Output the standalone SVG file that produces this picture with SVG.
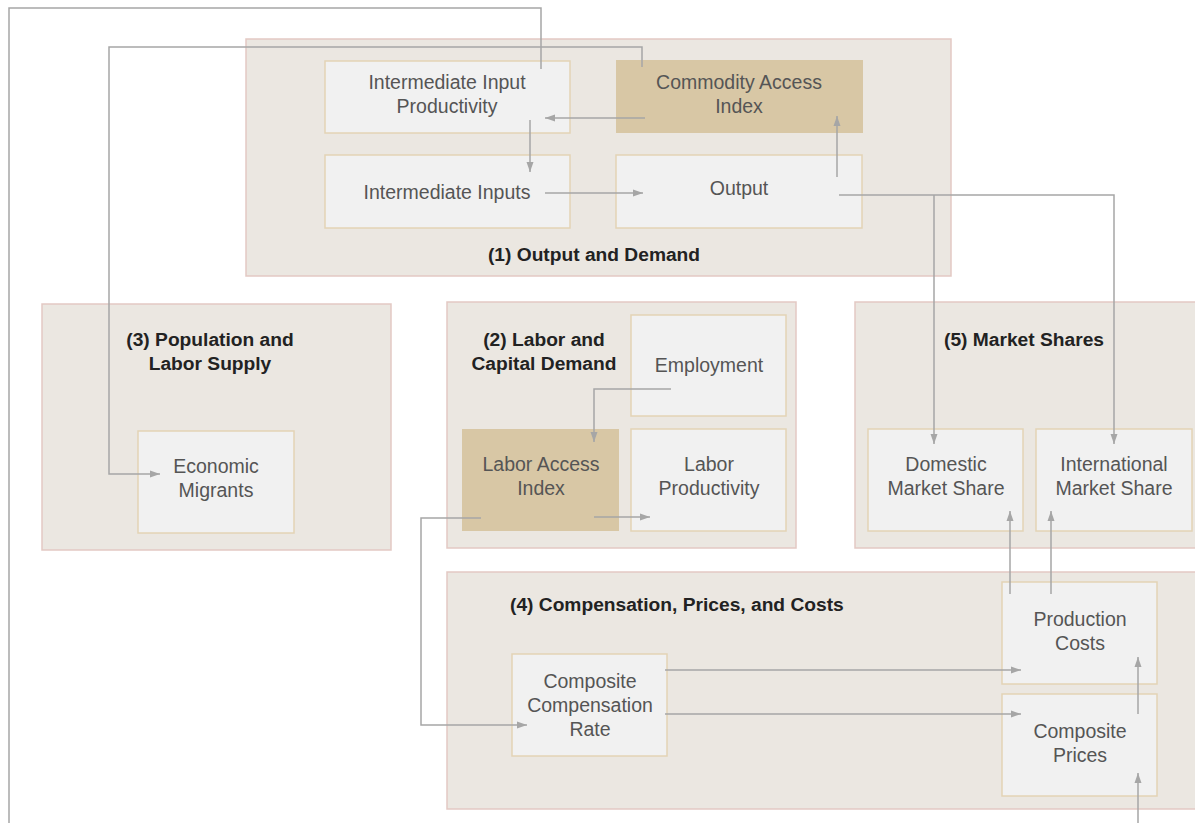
<svg xmlns="http://www.w3.org/2000/svg" width="1195" height="823" viewBox="0 0 1195 823">
<defs>
<marker id="ah" viewBox="0 0 10 10" refX="10" refY="5" markerWidth="10" markerHeight="10" markerUnits="userSpaceOnUse" orient="auto">
<path d="M0,1.5 L10,5 L0,8.5 Z" fill="#a6a6a6"/>
</marker>
<style>
.grp{fill:#ebe7e1;stroke:#e3c9c3;stroke-width:1.5}
.nd{fill:#f1f1f1;stroke:#e3d3b5;stroke-width:1.5}
.tan{fill:#d8c7a5;stroke:none}
.t{font-family:"Liberation Sans",Arial,sans-serif;font-size:19.5px;fill:#555;text-anchor:middle}
.h{font-family:"Liberation Sans",Arial,sans-serif;font-size:19.2px;font-weight:bold;fill:#222;text-anchor:middle}
.c{fill:none;stroke:#a6a6a6;stroke-width:1.5}
.a{marker-end:url(#ah)}
</style>
</defs>
<rect width="1195" height="823" fill="#ffffff"/>

<g id="group1">
<rect class="grp" x="246" y="39" width="705" height="237"/>
<text class="h" x="594" y="261">(1) Output and Demand</text>
</g>
<g id="group3">
<rect class="grp" x="42" y="304" width="349" height="246"/>
<text class="h" x="210" y="346">(3) Population and</text>
<text class="h" x="210" y="370">Labor Supply</text>
</g>
<g id="group2">
<rect class="grp" x="447" y="302" width="349" height="246"/>
<text class="h" x="544" y="346">(2) Labor and</text>
<text class="h" x="544" y="370">Capital Demand</text>
</g>
<g id="group5">
<rect class="grp" x="855" y="302" width="345" height="246"/>
<text class="h" x="1024" y="346">(5) Market Shares</text>
</g>
<g id="group4">
<rect class="grp" x="447" y="572" width="753" height="237"/>
<text class="h" x="510" y="611" style="text-anchor:start">(4) Compensation, Prices, and Costs</text>
</g>

<g id="n-iip">
<rect class="nd" x="325" y="61" width="245" height="72"/>
<text class="t" x="447" y="89">Intermediate Input</text>
<text class="t" x="447" y="113">Productivity</text>
</g>
<g id="n-cai">
<rect class="tan" x="616" y="60" width="247" height="73"/>
<text class="t" x="739" y="89">Commodity Access</text>
<text class="t" x="739" y="113">Index</text>
</g>
<g id="n-ii">
<rect class="nd" x="325" y="155" width="245" height="73"/>
<text class="t" x="447" y="199">Intermediate Inputs</text>
</g>
<g id="n-out">
<rect class="nd" x="616" y="155" width="246" height="73"/>
<text class="t" x="739" y="195">Output</text>
</g>
<g id="n-em">
<rect class="nd" x="138" y="431" width="156" height="102"/>
<text class="t" x="216" y="473">Economic</text>
<text class="t" x="216" y="497">Migrants</text>
</g>
<g id="n-emp">
<rect class="nd" x="631" y="315" width="155" height="101"/>
<text class="t" x="709" y="372">Employment</text>
</g>
<g id="n-lai">
<rect class="tan" x="462" y="429" width="157" height="102"/>
<text class="t" x="541" y="471">Labor Access</text>
<text class="t" x="541" y="495">Index</text>
</g>
<g id="n-lp">
<rect class="nd" x="631" y="429" width="155" height="102"/>
<text class="t" x="709" y="471">Labor</text>
<text class="t" x="709" y="495">Productivity</text>
</g>
<g id="n-dms">
<rect class="nd" x="868" y="429" width="155" height="102"/>
<text class="t" x="946" y="471">Domestic</text>
<text class="t" x="946" y="495">Market Share</text>
</g>
<g id="n-ims">
<rect class="nd" x="1036" y="429" width="156" height="102"/>
<text class="t" x="1114" y="471">International</text>
<text class="t" x="1114" y="495">Market Share</text>
</g>
<g id="n-ccr">
<rect class="nd" x="512" y="654" width="155" height="102"/>
<text class="t" x="590" y="688">Composite</text>
<text class="t" x="590" y="712">Compensation</text>
<text class="t" x="590" y="736">Rate</text>
</g>
<g id="n-pc">
<rect class="nd" x="1002" y="582" width="155" height="102"/>
<text class="t" x="1080" y="626">Production</text>
<text class="t" x="1080" y="650">Costs</text>
</g>
<g id="n-cp">
<rect class="nd" x="1002" y="694" width="155" height="102"/>
<text class="t" x="1080" y="738">Composite</text>
<text class="t" x="1080" y="762">Prices</text>
</g>

<g id="connectors">
<path class="c" d="M541,69 V8 H9 V823"/>
<path class="c a" d="M642,67 V47 H109 V474 H160"/>
<path class="c a" d="M645,118 H545"/>
<path class="c a" d="M530,120 V172"/>
<path class="c a" d="M545,193 H643"/>
<path class="c a" d="M837,177 V116"/>
<path class="c a" d="M839,195 H1114 V444"/>
<path class="c a" d="M934,195 V444"/>
<path class="c a" d="M671,389 H594 V442"/>
<path class="c a" d="M594,517 H650"/>
<path class="c a" d="M481,518 H421 V725 H527"/>
<path class="c a" d="M665,670 H1021"/>
<path class="c a" d="M665,714 H1021"/>
<path class="c a" d="M1138,714 V657"/>
<path class="c a" d="M1138,823 V773"/>
<path class="c a" d="M1010,594 V511"/>
<path class="c a" d="M1051,594 V511"/>
</g>
</svg>
